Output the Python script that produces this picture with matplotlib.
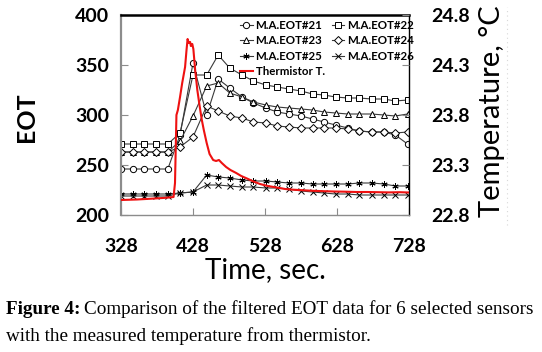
import matplotlib
matplotlib.use("Agg")
import matplotlib.pyplot as plt
from matplotlib.lines import Line2D

# ---------------- data ----------------
time_s = [328, 344, 360, 377, 393, 410, 428, 447, 463, 479, 496, 512, 529,
          545, 561, 578, 594, 610, 626, 643, 659, 676, 693, 709, 726]

eot21 = [246, 246, 246, 246, 246, 280, 352, 300, 336, 327, 318, 312, 307,
         303, 301, 299, 296, 293, 290, 287, 284, 283, 283, 280, 271]
eot22 = [271, 271, 271, 271, 271, 282, 340, 340, 360, 347, 340, 334, 330,
         328, 326, 324, 321, 320, 318, 317, 317, 316, 316, 314, 315]
eot23 = [263, 263, 263, 263, 263, 274, 299, 329, 332, 322, 318, 313, 310,
         308, 307, 306, 305, 303, 302, 301, 301, 301, 300, 299, 301]
eot24 = [263, 263, 263, 263, 263, 268, 278, 309, 304, 299, 297, 293, 292,
         289, 288, 287, 287, 287, 287, 286, 284, 283, 283, 282, 283]
eot25 = [221, 221, 221, 221, 221, 222, 223, 240, 238, 237, 235, 234, 234,
         233, 232, 232, 231, 231, 231, 231, 232, 232, 231, 229, 229]
eot26 = [219, 219, 219, 219, 219, 222, 223, 230, 230, 229, 228, 228, 227,
         227, 226, 224, 223, 222, 221, 221, 220, 220, 220, 220, 220]

therm_time = [328, 350, 370, 390, 401, 403, 405, 407, 410, 413, 417, 419,
              420.5, 422, 424, 425, 427, 428.5, 431, 434, 437, 440, 443, 447,
              451, 456, 460, 464, 468, 474, 480, 488, 495, 503, 512, 521, 532,
              544, 556, 567, 580, 594, 610, 625, 640, 655, 670, 685, 700, 715,
              728]
therm_temp = [22.95, 22.955, 22.963, 22.972, 22.98, 23.12, 23.80, 23.85,
              23.98, 24.12, 24.28, 24.45, 24.56, 24.52, 24.53, 24.49, 24.51,
              24.46, 24.25, 24.05, 23.90, 23.76, 23.65, 23.52, 23.41, 23.35,
              23.34, 23.35, 23.32, 23.28, 23.25, 23.22, 23.19, 23.165, 23.135,
              23.11, 23.09, 23.075, 23.06, 23.053, 23.048, 23.042, 23.038,
              23.035, 23.033, 23.03, 23.03, 23.028, 23.026, 23.028, 23.025]

x_ticks = [328, 428, 528, 628, 728]
eot_ticks = [200, 250, 300, 350, 400]
temp_ticks = [22.8, 23.3, 23.8, 24.3, 24.8]

series = [("M.A.EOT#21", eot21, "o"),
          ("M.A.EOT#22", eot22, "s"),
          ("M.A.EOT#23", eot23, "^"),
          ("M.A.EOT#24", eot24, "D"),
          ("M.A.EOT#25", eot25, (6, 2, 0)),
          ("M.A.EOT#26", eot26, "x")]

# ---------------- figure ----------------
W, H = 542, 352
fig = plt.figure(figsize=(W / 100, H / 100), dpi=100)
L, R, T, B = 121, 409, 15, 215
ax = fig.add_axes([L / W, 1 - B / H, (R - L) / W, (B - T) / H])
ax2 = ax.twinx()

handles = {}
for name, vals, mk in series:
    ms = 4.5
    if mk == "D":
        ms = 3.8
    if mk == "^":
        ms = 4.6
    h, = ax.plot(time_s, vals, color="#3a3a3a", lw=0.8, marker=mk,
                 markersize=ms, markerfacecolor="white",
                 markeredgecolor="black", markeredgewidth=0.7)
    handles[name] = h

hr, = ax2.plot(therm_time, therm_temp, color="#ee1111", lw=1.5)

ax.set_xlim(328, 728)
ax.set_ylim(200, 400)
ax2.set_ylim(22.8, 24.8)
ax.set_xticks(x_ticks)
ax.set_yticks(eot_ticks)
ax2.set_yticks(temp_ticks)
ax2.set_yticklabels([f"{t:.1f}" for t in temp_ticks])

for lab in ax.get_xticklabels() + ax.get_yticklabels() + ax2.get_yticklabels():
    lab.set_fontfamily("Lato")
    lab.set_fontweight("bold")
    lab.set_fontsize(14)

ax.tick_params(axis="x", direction="in", length=5, width=0.8, color="#8c8c8c",
               pad=16.5)
ax.tick_params(axis="y", direction="in", length=5, width=0.8, color="#8c8c8c",
               pad=8.5)
ax2.tick_params(axis="y", direction="in", length=5, width=0.8, color="#8c8c8c",
                pad=16)

for sp in ax2.spines.values():
    sp.set_visible(False)
ax.spines["left"].set_color("#8c8c8c")
ax.spines["left"].set_linewidth(1.6)
ax.spines["bottom"].set_color("#8c8c8c")
ax.spines["bottom"].set_linewidth(1.0)
ax.spines["top"].set_color("black")
ax.spines["top"].set_linewidth(1.8)
ax.spines["right"].set_color("black")
ax.spines["right"].set_linewidth(1.0)

order = ["M.A.EOT#21", "M.A.EOT#23", "M.A.EOT#25", "Thermistor T.",
         "M.A.EOT#22", "M.A.EOT#24", "M.A.EOT#26"]
handles["Thermistor T."] = hr
leg = ax2.legend([handles[k] for k in order], order, ncol=2, frameon=False,
                 loc="upper left",
                 bbox_to_anchor=((240 - L) / (R - L), (B - 20) / (B - T)),
                 borderpad=0, borderaxespad=0, handlelength=1.1,
                 handletextpad=0.25, columnspacing=0.6, labelspacing=0.38,
                 prop=dict(family="Lato", weight="bold", size=8.3))

# axis titles
fig.text(265 / W, 1 - 270 / H, "Time, sec.", ha="center", va="center",
         family="Lato", size=20)
fig.text(26 / W, 1 - 117 / H, "EOT", ha="center", va="center", rotation=90,
         family="Lato", weight="bold", size=18)
fig.text(492 / W, 1 - 111 / H, "Temperature, \u00b0C", ha="center",
         va="center", rotation=90, family="Lato", size=21)

# faint dotted guide at the far right
fig.add_artist(Line2D([507 / W, 507 / W], [1 - 225 / H, 1 - 7 / H],
                      color="#d8d8d8", lw=0.8, ls=(0, (1, 3))))

# caption
fig.canvas.draw()
rend = fig.canvas.get_renderer()
cap_y1 = 1 - 309 / H
cap_y2 = 1 - 336 / H
cap_size = 13.8
t1 = fig.text(6 / W, cap_y1, "Figure 4:", ha="left", va="center",
              family="Liberation Serif", weight="bold", size=cap_size)
bb = t1.get_window_extent(renderer=rend)
fig.text((bb.x1 + 4) / W, cap_y1,
         "Comparison of the filtered EOT data for 6 selected sensors",
         ha="left", va="center", family="Liberation Serif", size=cap_size)
fig.text(6 / W, cap_y2, "with the measured temperature from thermistor.",
         ha="left", va="center", family="Liberation Serif", size=cap_size)

fig.savefig("out.png", dpi=100)
